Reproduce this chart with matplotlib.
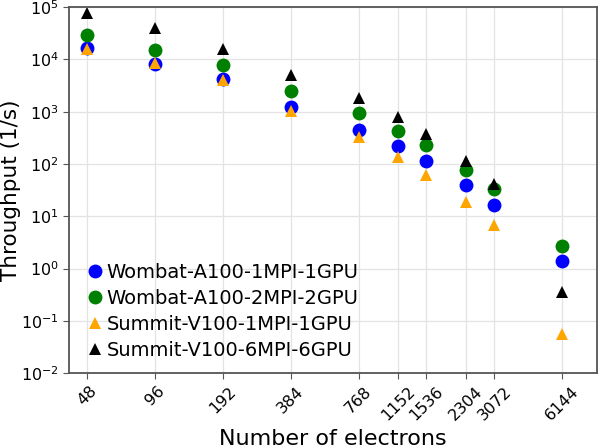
"""
plot.py
throughput vs number of electrons, wombat vs summit
"""

import matplotlib
matplotlib.use("Agg")
import matplotlib.pyplot as plt
from matplotlib.ticker import FixedLocator, FixedFormatter, NullLocator

electrons = [48, 96, 192, 384, 768, 1152, 1536, 2304, 3072, 6144]
tick_labels = [str(n) for n in electrons]

wombat_1gpu = [1.67e4, 8.1e3, 4.25e3, 1.24e3, 444, 220, 112, 39, 16.4, 1.37]
wombat_2gpu = [3.0e4, 1.5e4, 7.8e3, 2.5e3, 927, 432, 230, 76, 33, 2.69]
summit_1gpu = [1.6e4, 8.6e3, 4.0e3, 1.04e3, 325, 137, 63, 19, 6.8, 0.056]
summit_6gpu = [7.6e4, 4.0e4, 1.57e4, 5.1e3, 1.86e3, 800, 373, 113, 41, 0.36]

SERIES = [
    ("Wombat-A100-1MPI-1GPU", wombat_1gpu, "o", "blue", 10),
    ("Wombat-A100-2MPI-2GPU", wombat_2gpu, "o", "green", 10),
    ("Summit-V100-1MPI-1GPU", summit_1gpu, "^", "orange", 8),
    ("Summit-V100-6MPI-6GPU", summit_6gpu, "^", "black", 8),
]

fig = plt.figure(figsize=(6, 4.48), dpi=100)
ax = fig.add_axes([0.115, 0.167, 0.88, 0.817])

for label, vals, marker, color, ms in SERIES:
    ax.plot(electrons, vals, linestyle="none", marker=marker, color=color,
            markersize=ms, markeredgewidth=0, label=label)

ax.set_xscale("log", base=2)
ax.set_yscale("log")
ax.set_xlim(40, 8750)
ax.set_ylim(1e-2, 1e5)

ax.xaxis.set_major_locator(FixedLocator(electrons))
ax.xaxis.set_major_formatter(FixedFormatter(tick_labels))
ax.xaxis.set_minor_locator(NullLocator())
ax.yaxis.set_minor_locator(NullLocator())
ax.set_yticks([10.0 ** k for k in range(-2, 6)])

plt.setp(ax.get_xticklabels(), rotation=45)
ax.tick_params(labelsize=11.5, color="#555555", length=4)

ax.grid(True, color="#e3e3e3", linewidth=0.9)
ax.set_axisbelow(True)
for sp in ax.spines.values():
    sp.set_color("#555555")
    sp.set_linewidth(1.3)

ax.set_xlabel("Number of electrons", fontsize=16, labelpad=4)
ax.set_ylabel("Throughput (1/s)", fontsize=15.5)
ax.yaxis.set_label_coords(-0.09, 0.5)

ax.legend(loc="lower left", bbox_to_anchor=(0.005, 0.0), frameon=False,
          fontsize=14, handletextpad=0.1, labelspacing=0.35,
          handlelength=1.0, borderaxespad=0.3)

fig.savefig("out.png", dpi=100)
